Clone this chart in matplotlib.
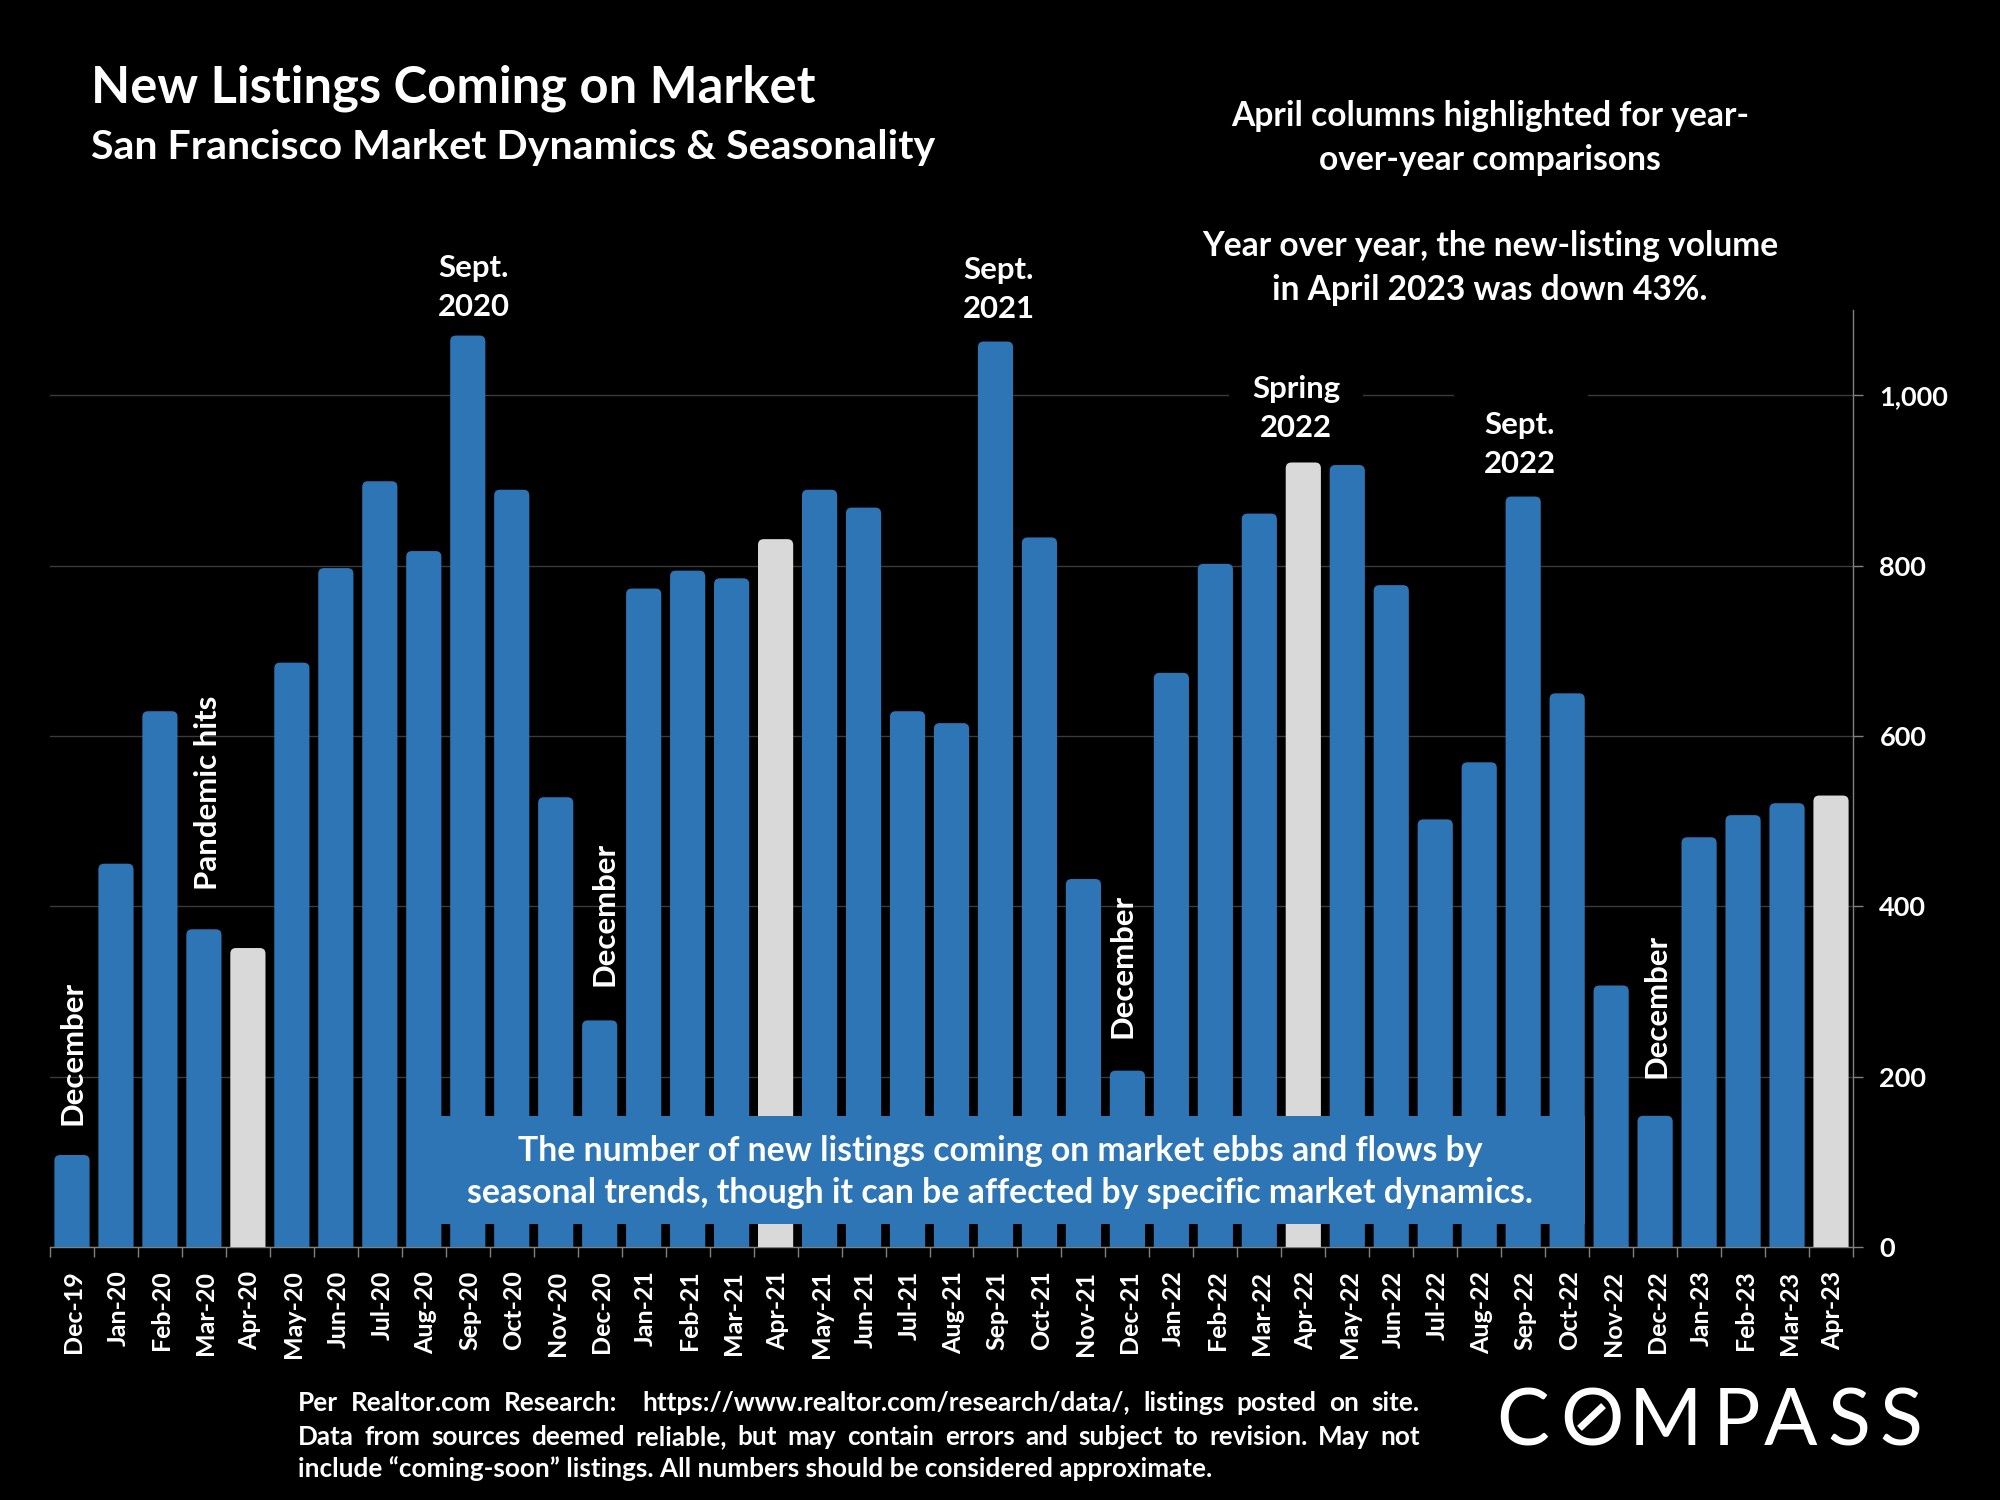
"""New listings coming on market - San Francisco, dark slide style."""
import matplotlib
matplotlib.use("Agg")
import matplotlib.pyplot as plt
from matplotlib.patches import FancyBboxPatch, Rectangle
from matplotlib.lines import Line2D
from matplotlib.ticker import FuncFormatter
from matplotlib.transforms import ScaledTranslation

months = [
    "Dec-19", "Jan-20", "Feb-20", "Mar-20", "Apr-20", "May-20", "Jun-20", "Jul-20",
    "Aug-20", "Sep-20", "Oct-20", "Nov-20", "Dec-20", "Jan-21", "Feb-21", "Mar-21",
    "Apr-21", "May-21", "Jun-21", "Jul-21", "Aug-21", "Sep-21", "Oct-21", "Nov-21",
    "Dec-21", "Jan-22", "Feb-22", "Mar-22", "Apr-22", "May-22", "Jun-22", "Jul-22",
    "Aug-22", "Sep-22", "Oct-22", "Nov-22", "Dec-22", "Jan-23", "Feb-23", "Mar-23",
    "Apr-23",
]
listings = [
    108, 450, 629, 373, 351, 686, 797, 899,
    817, 1070, 889, 528, 266, 773, 794, 785,
    831, 889, 868, 629, 615, 1063, 833, 432,
    207, 674, 802, 861, 921, 918, 777, 502,
    569, 881, 650, 307, 154, 481, 507, 521,
    530,
]
yticks = [0, 200, 400, 600, 800, 1000]

BLUE = "#2E75B6"
GREY = "#D9D9D9"
FONT = "Lato"
W, H = 2000, 1500

plt.rcParams["font.family"] = [FONT, "DejaVu Sans"]
fig = plt.figure(figsize=(20, 15), dpi=100, facecolor="black")


def fx(x):
    return x / W


def fy(y):
    return 1 - y / H


def label(x, y, s, size=22, ha="center", weight="bold", rotation=0):
    return fig.text(fx(x), fy(y), s, color="white", fontsize=size, ha=ha, va="center",
                    fontweight=weight, rotation=rotation, zorder=5)


ax = fig.add_axes([fx(50), fy(1247), fx(1853) - fx(50), fy(310) - fy(1247)], facecolor="black")
ax.set_xlim(-0.5, len(months) - 0.5)
ax.set_ylim(0, 1100)

# bars: rounded top, the rounded bottom hangs below the axis and gets clipped
bars = ax.bar(range(len(months)), listings, width=0.8, alpha=0)
for bar, month in zip(bars, months):
    color = GREY if month.startswith("Apr") else BLUE
    ax.add_patch(FancyBboxPatch(
        (bar.get_x(), -15), bar.get_width(), bar.get_height() + 15,
        boxstyle="round,pad=0,rounding_size=0.13", mutation_aspect=52,
        facecolor=color, edgecolor="none", zorder=3))

ax.set_yticks(yticks)
ax.yaxis.set_major_formatter(FuncFormatter(lambda v, _: f"{int(v):,}"))
ax.yaxis.tick_right()
ax.tick_params(axis="y", colors="white", labelsize=19.5, length=7, width=1, color="#808080", pad=12)
ax.grid(axis="y", color="#3A3A3A", lw=1)
ax.set_axisbelow(True)

ax.set_xticks(range(len(months)))
ax.set_xticklabels(months, rotation=90, fontsize=18, color="white", fontweight="bold")
ax.tick_params(axis="x", which="major", length=0, pad=17)
ax.set_xticks([i - 0.5 for i in range(len(months) + 1)], minor=True)
ax.tick_params(axis="x", which="minor", length=7, width=1, color="#808080")
nudge = ScaledTranslation(2 / 100, 0, fig.dpi_scale_trans)
for lab in ax.get_xticklabels():
    lab.set_transform(lab.get_transform() + nudge)

for side in ["left", "top"]:
    ax.spines[side].set_visible(False)
for side in ["right", "bottom"]:
    ax.spines[side].set_color("#808080")
    ax.spines[side].set_linewidth(1)
for lab in ax.get_yticklabels():
    lab.set_fontweight("bold")

# black boxes behind the two labels that sit on the 1,000 gridline
for x0, y0, x1, y1 in [(1229, 372, 1363, 446), (1454, 390, 1588, 482)]:
    fig.add_artist(Rectangle((fx(x0), fy(y1)), fx(x1) - fx(x0), fy(y0) - fy(y1),
                             transform=fig.transFigure, facecolor="black", edgecolor="none", zorder=1))

# callout box
fig.add_artist(Rectangle((fx(407), fy(1224)), fx(1585) - fx(407), fy(1116) - fy(1224),
                         transform=fig.transFigure, facecolor=BLUE, edgecolor="none", zorder=2))
label(1000, 1151, "The number of new listings coming on market ebbs and flows by", size=24.3)
label(1000, 1193, "seasonal trends, though it can be affected by specific market dynamics.", size=24.3)

# titles
label(91, 88, "New Listings Coming on Market", size=36.5, ha="left")
label(91, 147, "San Francisco Market Dynamics & Seasonality", size=29.6, ha="left")

for y, s in [(116, "April columns highlighted for year-"), (160, "over-year comparisons"),
             (246, "Year over year, the new-listing volume"), (290, "in April 2023 was down 43%.")]:
    label(1490, y, s, size=24.2)

# annotations over the bars
for x, y, s in [(474, 268, "Sept."), (474, 307, "2020"), (999, 270, "Sept."), (999, 309, "2021"),
                (1296, 389, "Spring"), (1296, 428, "2022"), (1520, 425, "Sept."), (1520, 464, "2022")]:
    label(x, y, s, size=22.4)
for x, y, s in [(72, 1053, "December"), (208, 793, "Pandemic hits"), (604, 914, "December"),
                (1123, 966, "December"), (1657, 1006, "December")]:
    label(x, y, s, size=22.4, rotation=90)

# footer, first two lines justified word by word (double gap after "Research:")
footer = [
    (1403, "Per Realtor.com Research:  https://www.realtor.com/research/data/, listings posted on site.", True),
    (1437, "Data from sources deemed reliable, but may contain errors and subject to revision. May not", True),
    (1469, "include “coming-soon” listings. All numbers should be considered approximate.", False),
]
renderer = fig.canvas.get_renderer()
for y, line, justify in footer:
    if not justify:
        label(298, y, line, size=18.8, ha="left")
        continue
    words = line.split()
    texts = [label(298, y, word, size=18.8, ha="left") for word in words]
    widths = [t.get_window_extent(renderer).width for t in texts]
    units = [2 if word == "Research:" else 1 for word in words[:-1]] + [0]
    gap = (1420 - 298 - sum(widths)) / sum(units)
    x = 298
    for t, width, unit in zip(texts, widths, units):
        t.set_x(fx(x))
        x += width + gap * unit

# logo
for x, s in [(1523, "C"), (1592, "O"), (1665, "M"), (1736, "P"), (1791, "A"), (1849, "S"), (1901, "S")]:
    label(x, 1423, s, size=57, weight="normal")
fig.add_artist(Line2D([fx(1582), fx(1601)], [fy(1426), fy(1408)], transform=fig.transFigure,
                      color="white", lw=5, zorder=6))

fig.savefig("out.png", dpi=100, facecolor="black")
